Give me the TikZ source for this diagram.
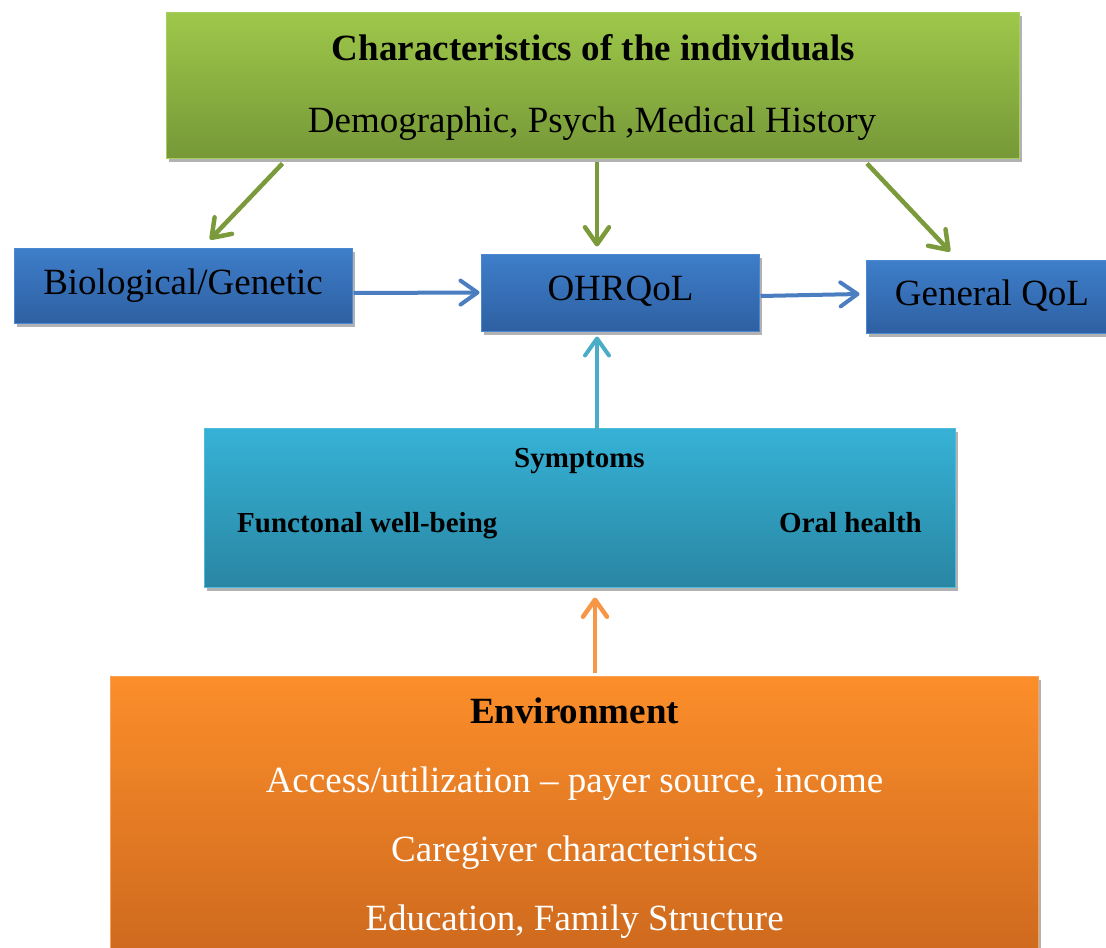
\documentclass[tikz,border=0pt]{standalone}
\usepackage{fontspec}
\setmainfont{Liberation Serif}
\usetikzlibrary{arrows.meta,shadows}
\definecolor{gtop}{RGB}{158,200,74}
\definecolor{gbot}{RGB}{118,152,56}
\definecolor{gline}{RGB}{166,206,92}
\definecolor{garr}{RGB}{122,154,59}
\definecolor{btop}{RGB}{62,126,202}
\definecolor{bbot}{RGB}{46,96,162}
\definecolor{bline}{RGB}{76,136,208}
\definecolor{barr}{RGB}{74,126,193}
\definecolor{ctop}{RGB}{54,178,214}
\definecolor{cbot}{RGB}{41,134,163}
\definecolor{cline}{RGB}{80,186,218}
\definecolor{carr}{RGB}{74,172,198}
\definecolor{otop}{RGB}{252,142,42}
\definecolor{obot}{RGB}{204,104,30}
\definecolor{oline}{RGB}{249,160,90}
\definecolor{oarr}{RGB}{247,150,70}
\begin{document}
\begin{tikzpicture}[x=1pt,y=-1pt,
  box/.style={rectangle,inner sep=0pt,line width=1pt,
    drop shadow={shadow xshift=3pt,shadow yshift=-4pt,opacity=0.3,fill=black}},
  gbox/.style={box,top color=gtop,bottom color=gbot,draw=gline},
  bbox/.style={box,top color=btop,bottom color=bbot,draw=bline},
  cbox/.style={box,top color=ctop,bottom color=cbot,draw=cline},
  obox/.style={box,top color=otop,bottom color=obot,draw=oline},
  big/.style={font=\fontsize{37}{44}\selectfont,inner sep=0pt},
  bigb/.style={font=\bfseries\fontsize{37}{44}\selectfont,inner sep=0pt},
  smallb/.style={font=\bfseries\fontsize{29}{34}\selectfont,inner sep=0pt},
  arr/.style={line width=4.5pt,-{Straight Barb[length=17pt,width=24pt,round]}},
  garrow/.style={arr,draw=garr},
  barrow/.style={arr,draw=barr,line width=4pt},
  carrow/.style={arr,draw=carr,line width=4pt},
  oarrow/.style={arr,draw=oarr}]
\useasboundingbox (0,0) rectangle (1106,948);
% boxes
\node[gbox,minimum width=853pt,minimum height=146pt] (top) at (592.5,85) {};
\node[bbox,minimum width=338pt,minimum height=75pt] (bio) at (183,285.5) {};
\node[bbox,minimum width=278pt,minimum height=77pt] (ohr) at (620,292.5) {};
\node[bbox,minimum width=244pt,minimum height=73pt] (gen) at (988,296.5) {};
\node[cbox,minimum width=751pt,minimum height=159pt] (sym) at (579.5,507.5) {};
\node[obox,minimum width=928pt,minimum height=290pt] (env) at (574,821) {};
% texts
\node[bigb,anchor=base] (t1) at (593.5,60) {Characteristics of the individuals};
\node[big,anchor=base] (t2) at (592,132) {Demographic, Psych ,Medical History};
\node[big,anchor=base] (tb) at (183,294) {Biological/Genetic};
\node[big,anchor=base] (to) at (620.5,300) {OHRQoL};
\node[big,anchor=base] (tg) at (992,305) {General QoL};
\node[smallb,anchor=base] (ts) at (579.5,467) {Symptoms};
\node[smallb,anchor=base west] (tf) at (237,532) {Functonal well-being};
\node[smallb,anchor=base east] (tr) at (922,532) {Oral health};
\node[bigb,anchor=base] (te) at (574.5,723) {Environment};
\node[big,anchor=base,text=white] (te1) at (574.5,792) {Access/utilization -- payer source, income};
\node[big,anchor=base,text=white] (te2) at (574.5,861) {Caregiver characteristics};
\node[big,anchor=base,text=white] (te3) at (574.5,930) {Education, Family Structure};
% connectors
\draw[garrow] ([xshift=-310pt,yshift=-5pt]top.south) -- ([xshift=27pt,yshift=8pt]bio.north);
\draw[garrow] ([xshift=4.5pt,yshift=-3pt]top.south) -- ([xshift=-23pt,yshift=7pt]ohr.north);
\draw[garrow] ([xshift=274.5pt,yshift=-5pt]top.south) -- ([xshift=-38pt,yshift=8pt]gen.north);
\draw[barrow] ([xshift=1pt,yshift=-7.5pt]bio.east) -- ([xshift=-1pt]ohr.west);
\draw[barrow] ([xshift=1pt,yshift=-3.5pt]ohr.east) -- ([xshift=-6pt,yshift=2.5pt]gen.west);
\draw[carrow] ([xshift=17.5pt,yshift=-2pt]sym.north) -- ([xshift=-23pt,yshift=-5pt]ohr.south);
\draw[oarrow] ([xshift=21pt,yshift=3pt]env.north) -- ([xshift=15.5pt,yshift=-10pt]sym.south);
\end{tikzpicture}
\end{document}
